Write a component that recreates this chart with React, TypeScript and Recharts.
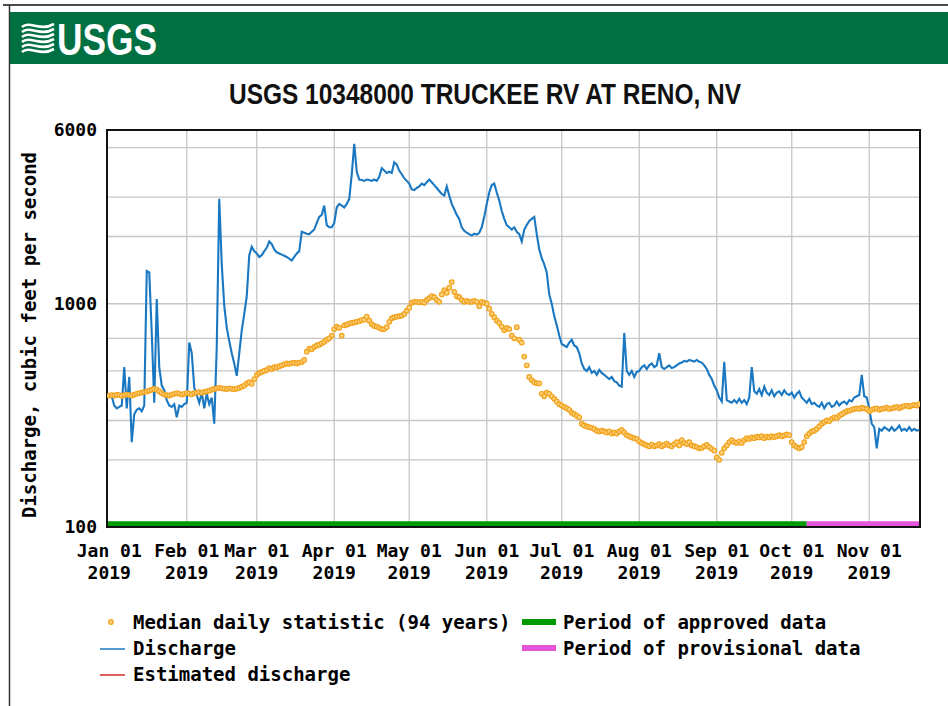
import { ComposedChart, Line, Scatter, XAxis, YAxis, CartesianGrid, ReferenceArea } from "recharts";

// day 0 = Jan 01 2019
const monthStartDays = [0, 31, 59, 90, 120, 151, 181, 212, 243, 273, 304];
const monthLabels = ["Jan 01", "Feb 01", "Mar 01", "Apr 01", "May 01", "Jun 01", "Jul 01", "Aug 01", "Sep 01", "Oct 01", "Nov 01"];
const yearLabel = "2019";
const yTicks = [100, 1000, 6000];
const gridValues = [200, 300, 400, 500, 600, 700, 800, 900, 1000, 2000, 3000, 4000, 5000];

// discharge, cfs (daily)
const dischargeJan = [390, 385, 350, 340, 345, 350, 520, 340, 470, 240, 320, 335, 340, 330, 350, 1400, 1380, 740, 360, 1050, 520, 430, 410, 370, 350, 345, 355, 310, 350, 345, 355];
const dischargeFeb = [360, 670, 600, 420, 390, 360, 400, 340, 395, 355, 380, 290, 640, 2950, 1500, 980, 780, 680, 600, 540, 475, 600, 760, 900, 1080, 1650, 1800, 1720];
const dischargeMar = [1680, 1620, 1650, 1720, 1780, 1900, 1850, 1750, 1700, 1680, 1660, 1640, 1620, 1590, 1560, 1620, 1680, 1720, 2100, 2080, 2060, 2050, 2100, 2150, 2300, 2450, 2500, 2750, 2250, 2200, 2200];
const dischargeApr = [2300, 2700, 2800, 2750, 2700, 2800, 2950, 3800, 5200, 3900, 3600, 3580, 3550, 3600, 3580, 3550, 3600, 3550, 3700, 4050, 3950, 3850, 3900, 3850, 4300, 4200, 3950, 3800, 3650, 3550];
const dischargeMay = [3450, 3250, 3230, 3300, 3350, 3450, 3400, 3500, 3600, 3500, 3400, 3300, 3200, 3100, 3050, 3350, 3050, 2800, 2650, 2500, 2400, 2200, 2120, 2080, 2050, 2020, 2060, 2040, 2080, 2200, 2450];
const dischargeJun = [2800, 3150, 3400, 3450, 3150, 2900, 2600, 2400, 2250, 2200, 2150, 2200, 2100, 2050, 1900, 2150, 2250, 2350, 2400, 2450, 2050, 1750, 1600, 1500, 1380, 1100, 1000, 880, 800, 720];
const dischargeJul = [660, 650, 640, 670, 690, 650, 640, 600, 540, 510, 500, 520, 490, 500, 480, 505, 490, 480, 470, 460, 470, 450, 445, 430, 425, 740, 500, 480, 500, 470, 495];
const dischargeAug = [500, 520, 530, 510, 530, 540, 520, 530, 600, 520, 510, 520, 530, 515, 520, 530, 540, 545, 555, 550, 560, 555, 550, 560, 550, 545, 530, 510, 480, 460, 430];
const dischargeSep = [410, 380, 365, 550, 370, 365, 360, 370, 360, 375, 360, 370, 355, 380, 520, 405, 395, 415, 390, 425, 400, 390, 410, 385, 400, 405, 390, 410, 395, 390];
const dischargeOct = [400, 380, 395, 405, 380, 370, 360, 375, 355, 360, 350, 345, 360, 340, 355, 360, 345, 350, 365, 350, 360, 365, 355, 370, 365, 380, 385, 390, 480, 385, 380];
const dischargeNov = [340, 290, 280, 225, 275, 270, 280, 275, 270, 280, 270, 275, 285, 270, 275, 270, 280, 270, 275, 270, 272];

// median daily statistic (94 years), cfs
const medianJan = [388, 390, 388, 392, 390, 387, 390, 392, 390, 388, 392, 395, 398, 400, 402, 405, 408, 412, 415, 412, 405, 398, 392, 390, 388, 392, 395, 398, 395, 392, 395];
const medianFeb = [398, 396, 393, 398, 400, 402, 399, 403, 405, 408, 412, 415, 418, 420, 418, 416, 415, 418, 416, 414, 417, 420, 425, 430, 440, 445, 438, 460];
const medianMar = [480, 490, 495, 500, 505, 515, 510, 520, 518, 525, 530, 535, 540, 538, 542, 545, 540, 545, 548, 560, 610, 630, 625, 640, 650, 655, 665, 675, 690, 700, 720];
const medianApr = [770, 790, 780, 720, 800, 805, 815, 820, 825, 830, 835, 845, 850, 875, 840, 810, 795, 790, 780, 770, 770, 785, 830, 860, 870, 875, 880, 885, 900, 930];
const medianMay = [960, 1010, 1020, 1020, 1015, 1020, 1010, 1040, 1060, 1080, 1070, 1040, 1020, 1100, 1150, 1120, 1180, 1250, 1130, 1080, 1070, 1040, 1020, 1030, 1020, 1020, 1030, 1020, 975, 1020, 1010];
const medianJun = [1000, 950, 900, 870, 840, 820, 790, 760, 780, 770, 720, 700, 785, 690, 670, 580, 530, 470, 455, 445, 440, 440, 395, 385, 400, 395, 385, 375, 365, 355];
const medianJul = [350, 345, 340, 335, 325, 320, 315, 310, 290, 285, 282, 280, 278, 275, 270, 268, 270, 268, 265, 268, 262, 265, 262, 268, 272, 265, 258, 255, 252, 250, 248];
const medianAug = [242, 238, 235, 232, 230, 234, 230, 232, 235, 230, 233, 236, 232, 230, 235, 240, 232, 245, 238, 235, 240, 232, 230, 228, 225, 226, 230, 233, 228, 224, 220];
const medianSep = [205, 200, 215, 225, 232, 240, 245, 240, 238, 242, 238, 245, 250, 248, 252, 250, 254, 252, 255, 250, 254, 252, 255, 253, 255, 258, 255, 257, 260, 258];
const medianOct = [240, 232, 228, 225, 228, 240, 255, 262, 268, 270, 275, 282, 290, 295, 300, 298, 305, 310, 308, 315, 320, 325, 330, 332, 335, 338, 340, 338, 342, 340, 338];
const medianNov = [330, 335, 338, 340, 335, 338, 340, 342, 338, 340, 342, 345, 340, 345, 348, 350, 346, 350, 352, 350, 355];

const estimatedDays = [0, 1];
const estimatedValues = [390, 385];

const provisionalStartDay = 279;
const firstDay = -0.9;
const lastDay = 324.3;

const dischargeData = [
  dischargeJan, dischargeFeb, dischargeMar, dischargeApr, dischargeMay, dischargeJun,
  dischargeJul, dischargeAug, dischargeSep, dischargeOct, dischargeNov,
].flat().map((q, day) => ({ day, q }));

const medianData = [
  medianJan, medianFeb, medianMar, medianApr, medianMay, medianJun,
  medianJul, medianAug, medianSep, medianOct, medianNov,
].flat().map((m, day) => ({ day, m }));

const estimatedData = estimatedDays.map((day, i) => ({ day, q: estimatedValues[i] }));

const MONO = "'DejaVu Sans Mono', 'Liberation Mono', monospace";
const BLUE = "#1a78c2";
const ORANGE = "#f2a21c";
const GREEN = "#009a00";
const MAGENTA = "#e455dc";
const RED = "#d42a2a";

const MonthTick = (props: any) => {
  const { x, y, payload } = props;
  const i = monthStartDays.indexOf(payload.value);
  return (
    <g>
      <text x={x} y={y + 22} textAnchor="middle" fontFamily={MONO} fontWeight="bold" fontSize={18} fill="#000">
        {monthLabels[i]}
      </text>
      <text x={x} y={y + 44} textAnchor="middle" fontFamily={MONO} fontWeight="bold" fontSize={18} fill="#000">
        {yearLabel}
      </text>
    </g>
  );
};

const CfsTick = (props: any) => {
  const { x, y, payload } = props;
  return (
    <text x={x - 2} y={y + 6} textAnchor="end" fontFamily={MONO} fontWeight="bold" fontSize={18} fill="#000">
      {payload.value}
    </text>
  );
};

const MedianDot = (props: any) => {
  const { cx, cy } = props;
  if (cx == null || cy == null) return null;
  return <circle cx={cx} cy={cy} r={2.3} fill="#fbd27e" stroke={ORANGE} strokeWidth={1.2} />;
};

const Header = () => (
  <svg width={948} height={706} style={{ position: "absolute", left: 0, top: 0 }}>
    <line x1={3} y1={5} x2={948} y2={5} stroke="#4a4a4a" strokeWidth={2} />
    <line x1={9.5} y1={5} x2={9.5} y2={706} stroke="#333" strokeWidth={1.5} />
    <rect x={10} y={12} width={938} height={52} fill="#006f41" />
    <g stroke="#fff" strokeWidth={2.6} fill="none">
      {[27, 32, 37, 42, 47, 52].map((yy) => (
        <path key={yy} d={`M22 ${yy} C30 ${yy - 7} 40 ${yy + 5} 54 ${yy - 3}`} />
      ))}
    </g>
    <text x={57} y={55} fontFamily="'Liberation Sans', Arial, sans-serif" fontWeight="bold" fontSize={44}
      fill="#fff" textLength={100} lengthAdjust="spacingAndGlyphs">USGS</text>
    <text x={485} y={104} textAnchor="middle" fontFamily="'Liberation Sans', Arial, sans-serif" fontWeight="bold"
      fontSize={29} fill="#111" textLength={512} lengthAdjust="spacingAndGlyphs">
      USGS 10348000 TRUCKEE RV AT RENO, NV
    </text>
    <text transform="translate(36,335) rotate(-90)" textAnchor="middle" fontFamily={MONO} fontWeight="bold"
      fontSize={19} fill="#000">
      Discharge, cubic feet per second
    </text>
  </svg>
);

const Legend = () => {
  const text = { fontFamily: MONO, fontWeight: "bold" as const, fontSize: 19, fill: "#000" };
  return (
    <svg width={948} height={706} style={{ position: "absolute", left: 0, top: 0 }}>
      <circle cx={111} cy={622} r={2.3} fill="#fbd27e" stroke={ORANGE} strokeWidth={1.2} />
      <text x={133} y={629} {...text}>Median daily statistic (94 years)</text>
      <line x1={100} y1={649} x2={125} y2={649} stroke={BLUE} strokeWidth={1.5} />
      <text x={133} y={655} {...text}>Discharge</text>
      <line x1={100} y1={675} x2={125} y2={675} stroke={RED} strokeWidth={1.5} />
      <text x={133} y={681} {...text}>Estimated discharge</text>
      <rect x={522} y={619} width={34} height={6} fill={GREEN} />
      <text x={563} y={629} {...text}>Period of approved data</text>
      <rect x={522} y={645} width={34} height={6} fill={MAGENTA} />
      <text x={563} y={655} {...text}>Period of provisional data</text>
    </svg>
  );
};

export default function App() {
  return (
    <div style={{ position: "absolute", left: 0, top: 0, width: 948, height: 706, background: "#fff" }}>
      <Header />
      <div style={{ position: "absolute", left: 0, top: 0 }}>
        <ComposedChart width={948} height={706} margin={{ top: 130, right: 28, bottom: 129, left: 47 }}>
          <CartesianGrid
            stroke="#c6c6c6"
            strokeWidth={1.3}
            horizontalValues={gridValues}
            verticalValues={monthStartDays.slice(1)}
          />
          <XAxis
            dataKey="day"
            type="number"
            domain={[firstDay, lastDay]}
            ticks={monthStartDays}
            tick={<MonthTick />}
            interval={0}
            axisLine={false}
            tickLine={false}
            height={50}
            allowDataOverflow
          />
          <YAxis
            type="number"
            scale="log"
            domain={[100, 6000]}
            ticks={yTicks}
            tick={<CfsTick />}
            axisLine={false}
            tickLine={false}
            width={60}
            allowDataOverflow
          />
          <Scatter data={medianData} dataKey="m" shape={<MedianDot />} isAnimationActive={false} />
          <Line data={dischargeData} dataKey="q" type="linear" stroke={BLUE} strokeWidth={2.1} dot={false} isAnimationActive={false} />
          <Line data={estimatedData} dataKey="q" type="linear" stroke={RED} strokeWidth={2.1} dot={false} isAnimationActive={false} />
          <ReferenceArea x1={firstDay} x2={provisionalStartDay} y1={100} y2={106} fill={GREEN} fillOpacity={1} stroke="none" />
          <ReferenceArea x1={provisionalStartDay} x2={lastDay} y1={100} y2={106} fill={MAGENTA} fillOpacity={1} stroke="none" />
          <ReferenceArea x1={firstDay} x2={lastDay} y1={100} y2={6000} fill="none" stroke="#111" strokeWidth={2} />
        </ComposedChart>
      </div>
      <Legend />
    </div>
  );
}
